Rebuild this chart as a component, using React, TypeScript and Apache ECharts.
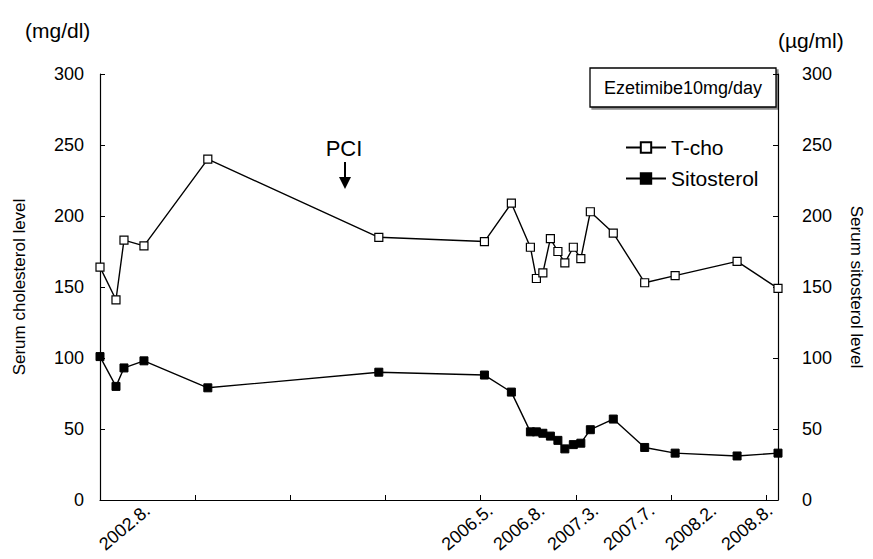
import React, { useEffect, useRef } from "react";
import * as echarts from "echarts";

// x positions of visits along the (non-uniform) horizontal axis, in axis units
const visitPos = [0, 0.168, 0.252, 0.462, 1.133, 2.93, 4.04, 4.323, 4.523, 4.586, 4.654, 4.733, 4.812, 4.885, 4.974, 5.053, 5.153, 5.394, 5.724, 6.044, 6.695, 7.125];
// Serum total cholesterol (mg/dl)
const tcho = [164, 141, 183, 179, 240, 185, 182, 209, 178, 156, 160, 184, 175, 167, 178, 170, 203, 188, 153, 158, 168, 149];
// Serum sitosterol (µg/ml)
const sitosterol = [101, 80, 93, 98, 79, 90, 88, 76, 48, 48, 47, 45, 42, 36, 39, 40, 49.5, 57, 37, 33, 31, 33];

const dateLabels = ["2002.8.", "2006.5.", "2006.8.", "2007.3.", "2007.7.", "2008.2.", "2008.8."];
const dateLabelPos = [0.5, 4.1, 4.645, 5.21, 5.8, 6.45, 7.04];
const xTickPos = [1, 2, 3, 4, 5, 6, 7];

const FONT = "'Liberation Sans', Arial, Helvetica, sans-serif";

export default function App() {
  const ref = useRef<HTMLDivElement>(null);
  useEffect(() => {
    if (!ref.current) return;
    const chart = echarts.init(ref.current, null, { renderer: "svg" });
    const axisLine = { show: true, lineStyle: { color: "#000", width: 1.2 } };
    chart.setOption({
      animation: false,
      backgroundColor: "#fff",
      textStyle: { fontFamily: FONT, color: "#000" },
      grid: { left: 100, right: 94, top: 74, bottom: 59, containLabel: false },
      legend: {
        orient: "vertical",
        left: 620,
        top: 132,
        itemWidth: 40,
        itemHeight: 13,
        itemGap: 10,
        textStyle: { fontSize: 21, color: "#000", fontFamily: FONT },
        data: ["T-cho", "Sitosterol"],
      },
      xAxis: {
        type: "value",
        min: 0,
        max: 7.125,
        axisLine,
        splitLine: { show: false },
        axisTick: { show: true, inside: true, length: 5, lineStyle: { color: "#000" }, customValues: xTickPos },
        axisLabel: {
          show: true,
          customValues: dateLabelPos,
          rotate: 40,
          margin: 8,
          fontSize: 18,
          color: "#000",
          fontFamily: FONT,
          formatter: (v: number) => {
            let best = 0;
            for (let i = 0; i < dateLabelPos.length; i++) {
              if (Math.abs(dateLabelPos[i] - v) < Math.abs(dateLabelPos[best] - v)) best = i;
            }
            return dateLabels[best];
          },
        },
      },
      yAxis: [
        {
          type: "value",
          min: 0,
          max: 300,
          interval: 50,
          position: "left",
          axisLine,
          axisTick: { show: true, inside: true, length: 5, lineStyle: { color: "#000" } },
          splitLine: { show: false },
          axisLabel: { fontSize: 18, color: "#000", margin: 16, fontFamily: FONT },
          name: "Serum cholesterol level",
          nameLocation: "middle",
          nameRotate: 90,
          nameGap: 72,
          nameTextStyle: { fontSize: 17, color: "#000", fontFamily: FONT },
        },
        {
          type: "value",
          min: 0,
          max: 300,
          interval: 50,
          position: "right",
          axisLine,
          axisTick: { show: true, inside: true, length: 5, lineStyle: { color: "#000" } },
          splitLine: { show: false },
          axisLabel: { fontSize: 18, color: "#000", margin: 24, fontFamily: FONT },
          name: "Serum sitosterol level",
          nameLocation: "middle",
          nameRotate: -90,
          nameGap: 70,
          nameTextStyle: { fontSize: 17, color: "#000", fontFamily: FONT },
        },
      ],
      series: [
        {
          name: "T-cho",
          type: "line",
          yAxisIndex: 0,
          data: visitPos.map((x, i) => [x, tcho[i]]),
          symbol: "rect",
          symbolSize: 8,
          lineStyle: { color: "#000", width: 1.4 },
          itemStyle: { color: "#fff", borderColor: "#000", borderWidth: 1.2 },
        },
        {
          name: "Sitosterol",
          type: "line",
          yAxisIndex: 1,
          data: visitPos.map((x, i) => [x, sitosterol[i]]),
          symbol: "rect",
          symbolSize: 8,
          lineStyle: { color: "#000", width: 1.4 },
          itemStyle: { color: "#000", borderColor: "#000", borderWidth: 1 },
        },
      ],
      graphic: [
        { type: "text", left: 25, top: 20, style: { text: "(mg/dl)", fontSize: 21, fill: "#000", fontFamily: FONT } },
        { type: "text", left: 778, top: 30, style: { text: "(µg/ml)", fontSize: 21, fill: "#000", fontFamily: FONT } },
        {
          type: "rect",
          shape: { x: 590, y: 68, width: 186, height: 39 },
          style: { fill: "#fff", stroke: "#000", lineWidth: 1.3, shadowColor: "rgba(0,0,0,0.45)", shadowOffsetX: 2, shadowOffsetY: 2, shadowBlur: 0 },
        },
        {
          type: "text",
          x: 683,
          y: 88,
          style: { text: "Ezetimibe10mg/day", fontSize: 18, fill: "#000", fontFamily: FONT, align: "center", verticalAlign: "middle" },
        },
        {
          type: "text",
          x: 344,
          y: 148,
          style: { text: "PCI", fontSize: 22, fill: "#000", fontFamily: FONT, align: "center", verticalAlign: "middle" },
        },
        { type: "line", shape: { x1: 345, y1: 162, x2: 345, y2: 180 }, style: { stroke: "#000", lineWidth: 2 } },
        { type: "polygon", shape: { points: [[339, 177], [351, 177], [345, 189]] }, style: { fill: "#000" } },
      ],
    });
    return () => chart.dispose();
  }, []);
  return <div ref={ref} style={{ position: "fixed", left: 0, top: 0, width: 873, height: 559 }} />;
}
